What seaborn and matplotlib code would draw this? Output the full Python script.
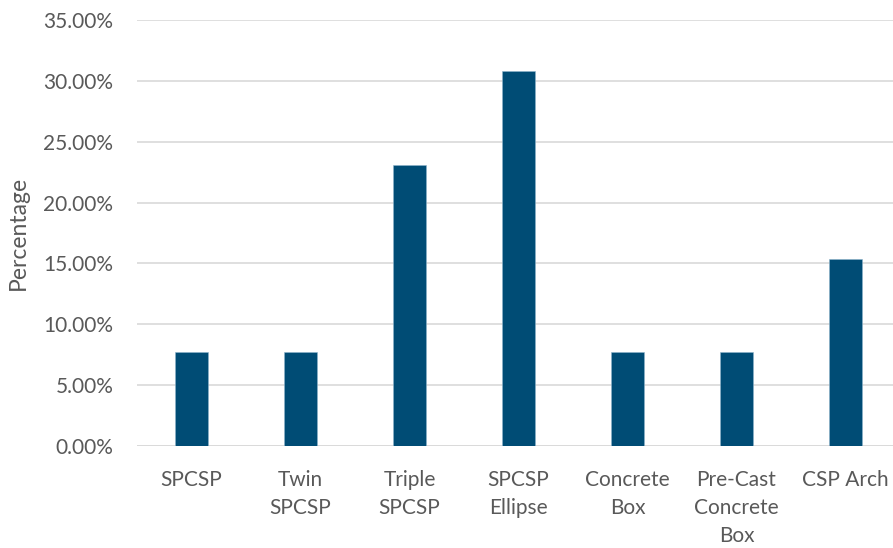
import matplotlib
matplotlib.use("Agg")
import matplotlib.pyplot as plt
import seaborn as sns
import pandas as pd
from matplotlib.ticker import PercentFormatter

categories = ["SPCSP", "Twin\nSPCSP", "Triple\nSPCSP", "SPCSP\nEllipse",
              "Concrete\nBox", "Pre-Cast\nConcrete\nBox", "CSP Arch"]
percentages = [7.69, 7.69, 23.08, 30.77, 7.69, 7.69, 15.38]
y_ticks = [0, 5, 10, 15, 20, 25, 30, 35]

df = pd.DataFrame({"category": categories, "pct": percentages})

sns.set_theme(style="white")
plt.rcParams["font.family"] = ["Lato", "DejaVu Sans"]

text_color = "#595959"
fig = plt.figure(figsize=(8.93, 5.48), dpi=100)
ax = fig.add_axes([137 / 893, 102 / 548, 763 / 893, 426 / 548])

sns.barplot(data=df, x="category", y="pct", color="#004C75", saturation=1,
            width=0.31, ax=ax, edgecolor="#8fb4cc", linewidth=0.4)

ax.set_ylim(0, 35)
ax.set_yticks(y_ticks)
ax.yaxis.set_major_formatter(PercentFormatter(decimals=2))
ax.grid(axis="y", color="#d9d9d9", linewidth=1.2)
ax.set_axisbelow(True)
for side in ["top", "right", "left", "bottom"]:
    ax.spines[side].set_visible(False)
ax.axhline(0, color="#d9d9d9", linewidth=1.2, zorder=0)

ax.tick_params(axis="y", length=0, pad=17, labelsize=15, labelcolor=text_color)
ax.tick_params(axis="x", length=0, pad=17.5, labelsize=15, labelcolor=text_color)
for lbl in ax.get_xticklabels():
    lbl.set_linespacing(1.5)
ax.set_xlabel("")
ax.set_ylabel("Percentage", fontsize=16.5, color=text_color)
ax.yaxis.set_label_coords(-108 / 763, 0.5)

fig.savefig("out.png", dpi=100)
